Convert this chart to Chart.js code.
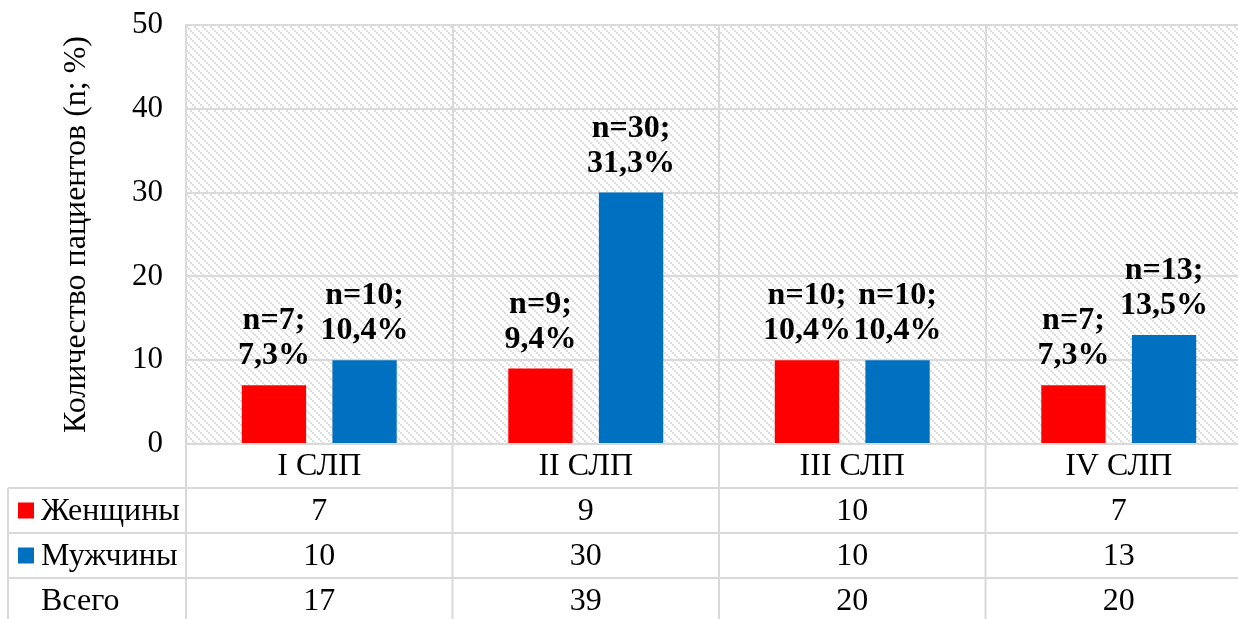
<!DOCTYPE html>
<html>
<head>
<meta charset="utf-8">
<script src="https://cdn.jsdelivr.net/npm/chart.js@4.4.1/dist/chart.umd.min.js"></script>
<style>
  html, body { margin: 0; padding: 0; background: #ffffff; overflow: hidden; }
  #wrap { width: 1252px; height: 624px; }
</style>
</head>
<body>
<div id="wrap"><canvas id="chart" width="1252" height="624"></canvas></div>
<script>
// Stages and patient counts
const categories = ['I СЛП', 'II СЛП', 'III СЛП', 'IV СЛП'];
const women = [7, 9, 10, 7];
const men = [10, 30, 10, 13];
const totals = [17, 39, 20, 20];
const womenPct = ['7,3%', '9,4%', '10,4%', '7,3%'];
const menPct = ['10,4%', '31,3%', '10,4%', '13,5%'];
const seriesNames = ['Женщины', 'Мужчины'];
const totalName = 'Всего';
const yTicks = [0, 10, 20, 30, 40, 50];

const RED = '#FF0000';
const BLUE = '#0070C0';
const LINE = '#d9d9d9';
const SERIF = '"Liberation Serif", "Times New Roman", serif';

// Diagonal dotted hatch for the plot background
function makeHatch() {
  const c = document.createElement('canvas');
  c.width = 8; c.height = 8;
  const g = c.getContext('2d');
  g.fillStyle = '#ffffff';
  g.fillRect(0, 0, 8, 8);
  g.fillStyle = '#dedede';
  for (let by = 0; by < 4; by++) {
    for (let bx = 0; bx < 4; bx++) {
      if ((bx - by + 4) % 4 === 0) g.fillRect(bx * 2, by * 2, 2, 2);
    }
  }
  return c;
}

const hatchPlugin = {
  id: 'hatch',
  beforeDraw(chart) {
    const { ctx, chartArea: a } = chart;
    ctx.save();
    ctx.fillStyle = ctx.createPattern(makeHatch(), 'repeat');
    ctx.fillRect(a.left, a.top, a.right - a.left, a.bottom - a.top);
    ctx.restore();
  }
};

// "n=..; ..%" labels above each bar
const pctLists = [womenPct, menPct];
const valueLabelPlugin = {
  id: 'valueLabels',
  afterDatasetsDraw(chart) {
    const ctx = chart.ctx;
    ctx.save();
    ctx.font = 'bold 32px ' + SERIF;
    ctx.fillStyle = '#000';
    ctx.textAlign = 'center';
    ctx.textBaseline = 'alphabetic';
    chart.data.datasets.forEach((ds, di) => {
      const meta = chart.getDatasetMeta(di);
      meta.data.forEach((bar, i) => {
        const base = bar.y - 21;
        ctx.fillText('n=' + ds.data[i] + ';', bar.x, base - 35);
        ctx.fillText(pctLists[di][i], bar.x, base);
      });
    });
    ctx.restore();
  }
};

// Data table under the category axis
const tablePlugin = {
  id: 'dataTable',
  afterDraw(chart) {
    const { ctx, chartArea: a } = chart;
    const n = categories.length;
    const cw = (a.right - a.left) / n;
    const headH = 44, rowH = 45;
    const bottom = chart.height;
    const leftEdge = 8;
    const rows = [
      { name: seriesNames[0], color: RED, vals: women },
      { name: seriesNames[1], color: BLUE, vals: men },
      { name: totalName, color: null, vals: totals }
    ];
    ctx.save();
    ctx.strokeStyle = LINE;
    ctx.lineWidth = 2;
    // horizontal rules
    for (let r = 0; r < rows.length; r++) {
      const y = a.bottom + headH + r * rowH;
      ctx.beginPath(); ctx.moveTo(leftEdge, y); ctx.lineTo(a.right, y); ctx.stroke();
    }
    // vertical rules
    ctx.beginPath(); ctx.moveTo(leftEdge, a.bottom + headH); ctx.lineTo(leftEdge, bottom); ctx.stroke();
    for (let i = 0; i <= n; i++) {
      const x = a.left + i * cw;
      ctx.beginPath(); ctx.moveTo(x, a.bottom); ctx.lineTo(x, bottom); ctx.stroke();
    }
    // cells
    ctx.fillStyle = '#000';
    ctx.font = '32px ' + SERIF;
    ctx.textBaseline = 'middle';
    rows.forEach((row, r) => {
      const cy = a.bottom + headH + r * rowH + rowH / 2;
      if (row.color) {
        ctx.fillStyle = row.color;
        ctx.fillRect(18, cy - 8, 16, 16);
      }
      ctx.fillStyle = '#000';
      ctx.textAlign = 'left';
      ctx.fillText(row.name, 41, cy + 1);
      ctx.textAlign = 'center';
      row.vals.forEach((v, i) => {
        ctx.fillText(String(v), a.left + (i + 0.5) * cw, cy + 1);
      });
    });
    ctx.restore();
  }
};

new Chart(document.getElementById('chart'), {
  type: 'bar',
  data: {
    labels: categories,
    datasets: [
      { label: seriesNames[0], data: women, backgroundColor: RED },
      { label: seriesNames[1], data: men, backgroundColor: BLUE }
    ]
  },
  options: {
    responsive: false,
    devicePixelRatio: 1,
    animation: false,
    categoryPercentage: 0.68,
    barPercentage: 0.71,
    layout: { padding: { top: 25, left: 0, right: 0, bottom: 0 } },
    plugins: { legend: { display: false }, tooltip: { enabled: false } },
    scales: {
      x: {
        grid: { offset: true, color: LINE, lineWidth: 2, drawTicks: false },
        border: { color: LINE, width: 2 },
        ticks: { color: '#000', font: { family: SERIF, size: 32 }, padding: 3, maxRotation: 0 },
        afterFit(s) { s.height = 180; }
      },
      y: {
        min: 0, max: 50,
        afterBuildTicks(s) { s.ticks = yTicks.map(v => ({ value: v })); },
        grid: { color: LINE, lineWidth: 2, drawTicks: false },
        border: { color: LINE, width: 2 },
        ticks: { color: '#000', font: { family: SERIF, size: 31 }, padding: 23 },
        title: {
          display: true,
          text: 'Количество пациентов (n; %)',
          color: '#000',
          font: { family: SERIF, size: 32 },
          padding: { top: 57, bottom: 0 }
        },
        afterFit(s) { s.width = 186; s.paddingTop = 0; s.paddingBottom = 0; }
      }
    }
  },
  plugins: [hatchPlugin, valueLabelPlugin, tablePlugin]
});
</script>
</body>
</html>
